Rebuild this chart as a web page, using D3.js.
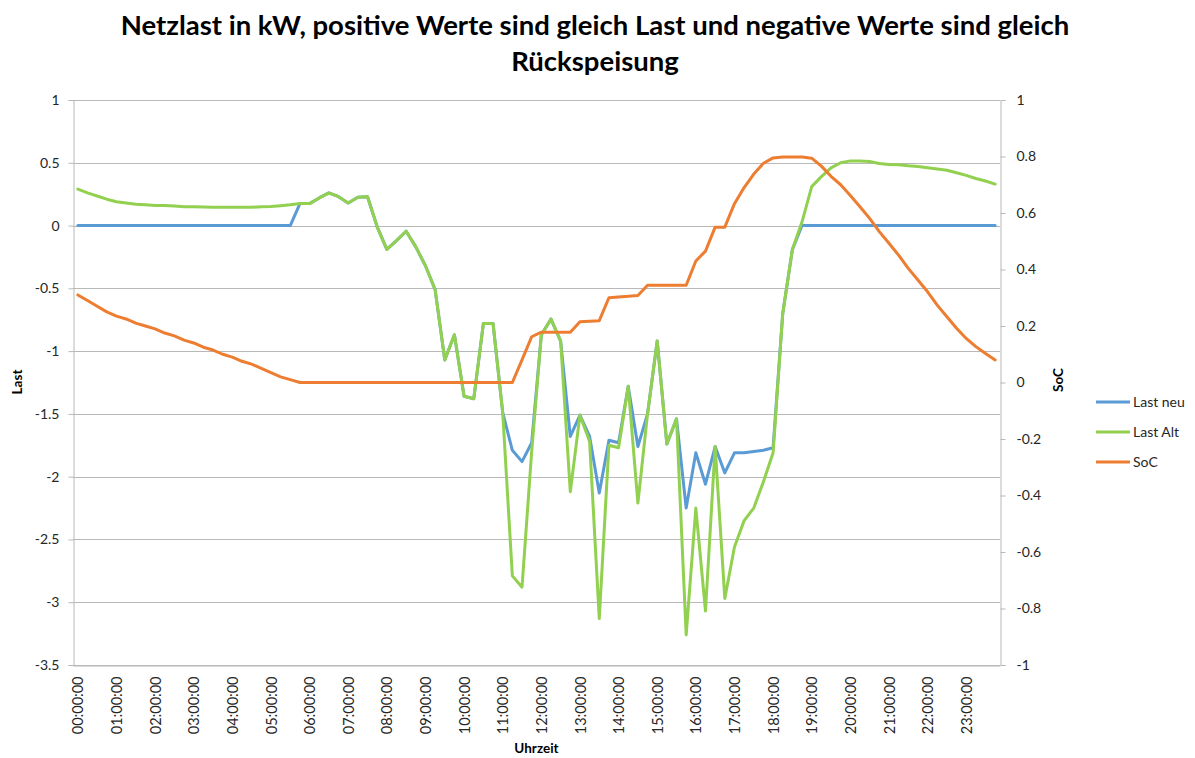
<!DOCTYPE html>
<html>
<head>
<meta charset="utf-8">
<script src="https://cdn.jsdelivr.net/npm/d3@7"></script>
<style>
  html, body { margin: 0; padding: 0; background: #fff; }
  svg { display: block; font-family: Lato, "Open Sans", sans-serif; }
</style>
</head>
<body>
<svg id="chart" width="1195" height="758"></svg>
<script>
// ---------------- DATA ----------------
const titleLines = ["Netzlast in kW, positive Werte sind gleich Last und negative Werte sind gleich", "Rückspeisung"];
const seriesNames = ["Last neu", "Last Alt", "SoC"];
const seriesColors = ["#5B9BD5", "#92D050", "#ED7D31"];

// 96 quarter-hour categories
const categories = [];
for (let h = 0; h < 24; h++) for (let m = 0; m < 60; m += 15)
  categories.push(String(h).padStart(2, "0") + ":" + String(m).padStart(2, "0") + ":00");

const xTickLabels = ["00:00:00","01:00:00","02:00:00","03:00:00","04:00:00","05:00:00","06:00:00","07:00:00",
  "08:00:00","09:00:00","10:00:00","11:00:00","12:00:00","13:00:00","14:00:00","15:00:00","16:00:00",
  "17:00:00","18:00:00","19:00:00","20:00:00","21:00:00","22:00:00","23:00:00"];
const leftTicks = [1, 0.5, 0, -0.5, -1, -1.5, -2, -2.5, -3, -3.5];
const rightTicks = [1, 0.8, 0.6, 0.4, 0.2, 0, -0.2, -0.4, -0.6, -0.8, -1];

const lastNeu = [
  0,0,0,0,0,0,0,0,0,0,0,0,0,0,0,0,0,0,0,0,0,0,0,
  0.175,0.175,0.22,0.26,0.23,0.18,0.225,0.23,-0.01,-0.19,-0.12,-0.045,-0.17,-0.32,-0.51,-1.07,-0.87,
  -1.36,-1.38,-0.78,-0.78,-1.49,
  -1.79,-1.88,-1.73,-0.87,-0.745,-0.92,-1.68,-1.51,-1.68,-2.13,-1.71,-1.73,-1.28,-1.76,-1.5,
  -0.92,-1.74,-1.54,-2.25,-1.81,-2.06,-1.76,-1.97,-1.81,-1.81,-1.80,-1.79,-1.77,-0.70,-0.19,
  0,0,0,0,0,0,0,0,0,0,0,0,0,0,0,0,0,0,0,0,0
];
const lastAlt = [
  0.29,0.26,0.235,0.21,0.19,0.18,0.17,0.165,0.16,0.16,0.155,0.15,0.15,0.147,0.145,0.145,0.145,0.145,0.145,0.15,0.152,0.158,0.165,
  0.175,0.175,0.22,0.26,0.23,0.18,0.225,0.23,-0.01,-0.19,-0.12,-0.045,-0.17,-0.32,-0.51,-1.07,-0.87,
  -1.36,-1.38,-0.78,-0.78,-1.49,
  -2.79,-2.88,-1.8,-0.87,-0.745,-0.92,-2.12,-1.51,-1.72,-3.13,-1.75,-1.77,-1.28,-2.21,-1.5,
  -0.92,-1.74,-1.54,-3.26,-2.25,-3.07,-1.76,-2.97,-2.56,-2.35,-2.25,-2.04,-1.81,-0.70,-0.19,
  0.03,0.31,0.39,0.46,0.50,0.515,0.515,0.51,0.495,0.487,0.485,0.476,0.47,0.46,0.45,0.44,0.42,0.40,0.375,0.355,0.33
];
const soc = [
  0.31,0.29,0.27,0.25,0.235,0.225,0.21,0.20,0.19,0.175,0.165,0.15,0.14,0.125,0.115,0.10,0.09,0.075,0.065,0.05,0.035,0.02,0.01,
  0,0,0,0,0,0,0,0,0,0,0,0,0,0,0,0,0,0,0,0,0,0,0,
  0.08,0.162,0.178,0.178,0.178,0.178,0.215,0.217,0.219,0.30,0.303,0.305,0.308,0.344,0.344,0.344,0.344,0.344,
  0.43,0.465,0.55,0.55,0.633,0.69,0.738,0.776,0.795,0.798,0.798,0.798,0.794,0.766,0.73,0.70,0.662,
  0.622,0.581,0.534,0.493,0.451,0.404,0.363,0.321,0.274,0.233,0.192,0.156,0.127,0.103,0.08,0.058
];

// ---------------- LAYOUT ----------------
const svg = d3.select("#chart");
const L = 73, R = 1000, T = 100, B = 665;
const textColor = "#262626";
const gridColor = "#b8b8b8";

const x = d3.scalePoint().domain(d3.range(categories.length)).range([L, R]).padding(0.5);
const yL = d3.scaleLinear().domain([-3.5, 1]).range([B, T]);
const yR = d3.scaleLinear().domain([-1, 1]).range([B, T]);

// Title
const title = svg.append("g").attr("font-weight", "bold").attr("fill", "#000").attr("text-anchor", "middle");
title.append("text").attr("x", 595).attr("y", 35).attr("font-size", 27.5).text(titleLines[0]);
title.append("text").attr("x", 595).attr("y", 71).attr("font-size", 27.5).text(titleLines[1]);

// Gridlines
svg.append("g").selectAll("line").data(leftTicks).join("line")
  .attr("x1", L).attr("x2", R)
  .attr("y1", d => Math.round(yL(d)) + 0.5).attr("y2", d => Math.round(yL(d)) + 0.5)
  .attr("stroke", gridColor).attr("stroke-width", 1);

// Left axis
const axL = svg.append("g").attr("transform", `translate(${L + 0.5},0)`)
  .call(d3.axisLeft(yL).tickValues(leftTicks).tickFormat(d => String(d)).tickSize(5).tickPadding(9));
axL.select(".domain").attr("stroke", gridColor);
axL.selectAll(".tick line").attr("stroke", gridColor);
axL.selectAll("text").attr("font-size", 14).attr("fill", textColor).attr("font-family", "Lato");

// Right axis
const axR = svg.append("g").attr("transform", `translate(${R + 0.5},0)`)
  .call(d3.axisRight(yR).tickValues(rightTicks).tickFormat(d => String(d)).tickSize(5).tickPadding(11));
axR.select(".domain").attr("stroke", gridColor);
axR.selectAll(".tick line").attr("stroke", gridColor);
axR.selectAll("text").attr("font-size", 14).attr("fill", textColor).attr("font-family", "Lato");

// Bottom axis
const tickIdx = xTickLabels.map(lbl => categories.indexOf(lbl));
const axB = svg.append("g").attr("transform", `translate(0,${B + 0.5})`)
  .call(d3.axisBottom(x).tickValues(tickIdx).tickFormat(i => categories[i]).tickSize(0));
axB.select(".domain").attr("stroke", gridColor);
axB.selectAll("text")
  .attr("font-size", 14.5).attr("fill", textColor).attr("font-family", "Lato")
  .attr("text-anchor", "end").attr("transform", "rotate(-90)")
  .attr("x", -11).attr("y", 0).attr("dy", "0.35em");

// Axis titles
svg.append("text").attr("transform", "translate(22,382) rotate(-90)")
  .attr("text-anchor", "middle").attr("font-weight", "bold").attr("font-size", 13.5).attr("fill", "#000").text("Last");
svg.append("text").attr("transform", "translate(1063,380) rotate(-90)")
  .attr("text-anchor", "middle").attr("font-weight", "bold").attr("font-size", 13.5).attr("fill", "#000").text("SoC");
svg.append("text").attr("x", (L + R) / 2).attr("y", 753)
  .attr("text-anchor", "middle").attr("font-weight", "bold").attr("font-size", 13.5).attr("fill", "#000").text("Uhrzeit");

// Lines
const lineL = d3.line().x((d, i) => x(i)).y(d => yL(d));
const lineR = d3.line().x((d, i) => x(i)).y(d => yR(d));
const plot = svg.append("g").attr("fill", "none").attr("stroke-width", 3)
  .attr("stroke-linejoin", "round").attr("stroke-linecap", "round");
plot.append("path").attr("d", lineL(lastNeu)).attr("stroke", seriesColors[0]);
plot.append("path").attr("d", lineL(lastAlt)).attr("stroke", seriesColors[1]);
plot.append("path").attr("d", lineR(soc)).attr("stroke", seriesColors[2]);

// Legend
const legend = svg.append("g").selectAll("g").data(seriesNames).join("g")
  .attr("transform", (d, i) => `translate(1096,${402 + i * 30})`);
legend.append("line").attr("x1", 0).attr("x2", 34).attr("y1", 0).attr("y2", 0)
  .attr("stroke", (d, i) => seriesColors[i]).attr("stroke-width", 3);
legend.append("text").attr("x", 37).attr("y", 0).attr("dy", "0.35em")
  .attr("font-size", 14).attr("fill", textColor).text(d => d);
</script>
</body>
</html>
